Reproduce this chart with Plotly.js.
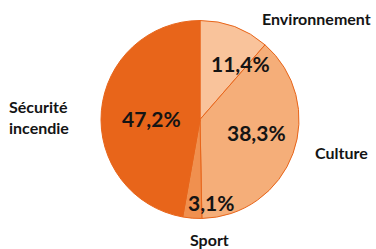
<!DOCTYPE html>
<html>
<head>
<meta charset="utf-8">
<script src="https://cdn.plot.ly/plotly-3.0.1.min.js"></script>
<style>html,body{margin:0;padding:0;background:#fff;}#chart{width:376px;height:249px;}</style>
</head>
<body>
<div id="chart"></div>
<script>
const categories = ["Environnement", "Culture", "Sport", "Sécurité<br>incendie"];
const values = [11.4, 38.3, 3.1, 47.2];
const colors = ["#F9C39B", "#F5AE79", "#F0904F", "#E8651A"];

// label placements (pixel positions in the 376x249 frame)
const W = 376, H = 249;
const catPos = [[316, 18, "center"], [341, 152, "center"], [210, 239, "center"], [7, 117, "left"]];
const pctPos = [[240, 64], [256, 132], [211, 202], [151, 119]];

const annotations = [];
categories.forEach((c, i) => {
  const p = catPos[i];
  annotations.push({
    text: c, x: p[0] / W, y: 1 - p[1] / H,
    xref: "paper", yref: "paper", showarrow: false,
    xanchor: p[2], yanchor: "middle", align: "left",
    font: {family: "Lato, 'DejaVu Sans', sans-serif", size: 16, color: "#141414", weight: "bold"}
  });
});
values.forEach((v, i) => {
  const p = pctPos[i];
  annotations.push({
    text: v.toFixed(1).replace(".", ",") + "%", x: p[0] / W, y: 1 - p[1] / H,
    xref: "paper", yref: "paper", showarrow: false,
    xanchor: "center", yanchor: "middle",
    font: {family: "Lato, 'DejaVu Sans', sans-serif", size: 21, color: "#141414", weight: "bold"}
  });
});

const data = [{
  type: "pie",
  labels: categories,
  values: values,
  sort: false,
  direction: "clockwise",
  rotation: 0,
  textinfo: "none",
  hoverinfo: "none",
  marker: {colors: colors, line: {color: "#E8651A", width: 1}},
  domain: {x: [101 / W, 299 / W], y: [1 - 219 / H, 1 - 20 / H]}
}];

const layout = {
  width: W, height: H,
  margin: {l: 0, r: 0, t: 0, b: 0},
  showlegend: false,
  paper_bgcolor: "#ffffff",
  annotations: annotations
};

Plotly.newPlot("chart", data, layout, {staticPlot: true, displayModeBar: false});
</script>
</body>
</html>
